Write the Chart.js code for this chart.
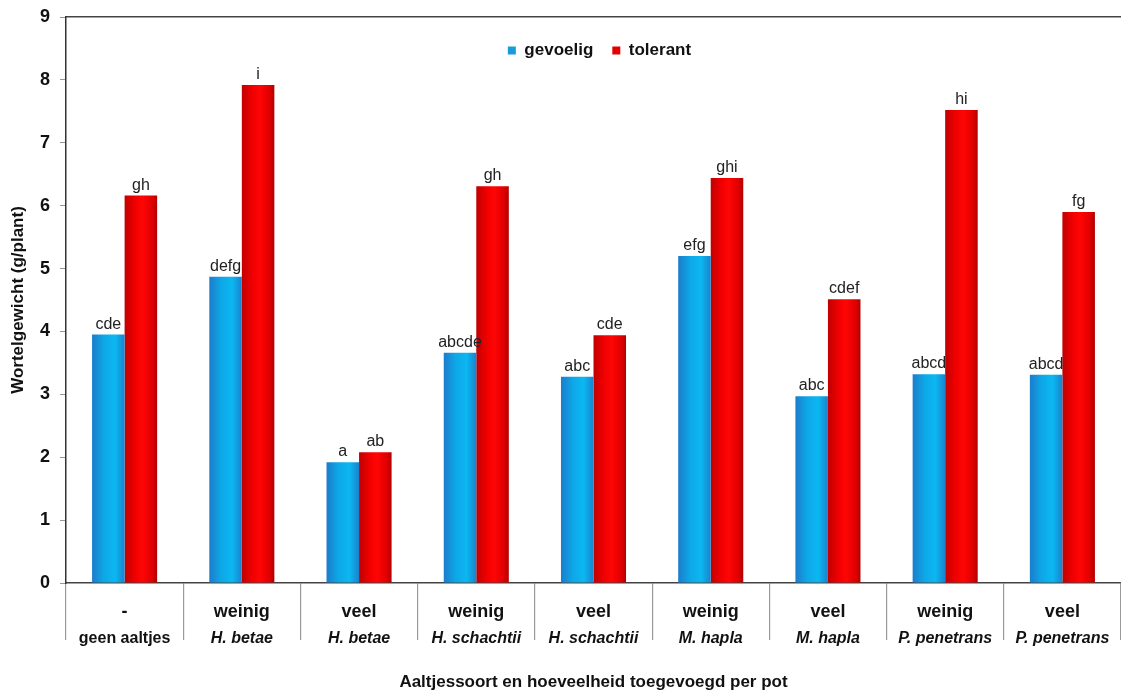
<!DOCTYPE html>
<html>
<head>
<meta charset="utf-8">
<script src="https://cdn.jsdelivr.net/npm/chart.js@4.4.0/dist/chart.umd.min.js"></script>
<style>
html,body{margin:0;padding:0;background:#fff;overflow:hidden}
#wrap{width:1121px;height:693px;position:relative}
</style>
</head>
<body>
<div id="wrap"><canvas id="c"></canvas></div>
<script>
// ---- data ----
const groupAmounts = ['-', 'weinig', 'veel', 'weinig', 'veel', 'weinig', 'veel', 'weinig', 'veel'];
const groupSpecies = ['geen aaltjes', 'H. betae', 'H. betae', 'H. schachtii', 'H. schachtii', 'M. hapla', 'M. hapla', 'P. penetrans', 'P. penetrans'];
const gevoelig = [3.95, 4.87, 1.92, 3.66, 3.28, 5.20, 2.97, 3.32, 3.31];
const tolerant = [6.16, 7.92, 2.08, 6.31, 3.94, 6.44, 4.51, 7.52, 5.90];
const gevoeligLetters = ['cde', 'defg', 'a', 'abcde', 'abc', 'efg', 'abc', 'abcd', 'abcd'];
const tolerantLetters = ['gh', 'i', 'ab', 'gh', 'cde', 'ghi', 'cdef', 'hi', 'fg'];
const yMin = 0, yMax = 9, yStep = 1;

const FONT = '"Liberation Sans", Arial, Helvetica, sans-serif';
Chart.defaults.font.family = FONT;
Chart.defaults.color = '#111';

const CAT_PCT = 0.555, BAR_PCT = 1.0;
const blueStops = [[0, '#1c7ccb'], [0.35, '#0ea6e6'], [0.7, '#0bb8f1'], [1, '#1983cf']];
const redStops = [[0, '#c00000'], [0.3, '#ee0000'], [0.55, '#ff0505'], [0.85, '#e00000'], [1, '#b00000']];

function makeGrad(stops, fallback) {
  return function (c) {
    const chart = c.chart;
    const xs = chart.scales && chart.scales.x;
    if (c.type !== 'data' || !xs || !chart.chartArea || !xs.width) return fallback;
    const center = xs.getPixelForValue(c.dataIndex);
    const catW = xs.width / xs.getLabels().length;
    const w = catW * CAT_PCT * BAR_PCT / 2;
    const x0 = c.datasetIndex === 0 ? center - w : center;
    const g = chart.ctx.createLinearGradient(x0, 0, x0 + w, 0);
    stops.forEach(s => g.addColorStop(s[0], s[1]));
    return g;
  };
}

const letterPlugin = {
  id: 'letters',
  afterDatasetsDraw(chart) {
    const ctx = chart.ctx;
    ctx.save();
    ctx.font = '16px ' + FONT;
    ctx.fillStyle = '#222';
    ctx.textAlign = 'center';
    ctx.textBaseline = 'alphabetic';
    [gevoeligLetters, tolerantLetters].forEach((letters, di) => {
      chart.getDatasetMeta(di).data.forEach((el, i) => {
        ctx.fillText(letters[i], el.x, el.y - 6);
      });
    });
    ctx.restore();
  }
};

// legend takes no layout space; it is moved inside the plot area after layout
function patchLegend(chart) {
  const lg = chart.legend;
  if (!lg || lg._patched) return;
  const fit = lg.fit;
  lg.fit = function () { fit.call(this); this._realHeight = this.height; this.height = 0; };
  lg._patched = true;
}
const legendInside = {
  id: 'legendInside',
  afterInit(chart) { patchLegend(chart); },
  beforeLayout(chart) { patchLegend(chart); },
  afterLayout(chart) {
    const lg = chart.legend;
    if (!lg) return;
    const h = lg._realHeight || 60;
    lg.left += 6; lg.right += 6;
    lg.top = chart.chartArea.top + 6;
    lg.height = h;
    lg.bottom = lg.top + h;
  }
};

new Chart(document.getElementById('c'), {
  type: 'bar',
  data: {
    labels: groupAmounts,
    datasets: [
      { label: 'gevoelig', data: gevoelig, legendColor: '#1a9ad9',
        backgroundColor: makeGrad(blueStops, '#1a9ad9'), borderWidth: 0,
        categoryPercentage: CAT_PCT, barPercentage: BAR_PCT },
      { label: 'tolerant', data: tolerant, legendColor: '#e00000',
        backgroundColor: makeGrad(redStops, '#e00000'), borderWidth: 0,
        categoryPercentage: CAT_PCT, barPercentage: BAR_PCT }
    ]
  },
  options: {
    responsive: true,
    maintainAspectRatio: false,
    animation: false,
    devicePixelRatio: 1,
    layout: { padding: { top: 17, left: 0, right: 0, bottom: 0 } },
    plugins: {
      tooltip: { enabled: false },
      legend: {
        position: 'top',
        fullSize: false,
        align: 'center',
        labels: {
          boxWidth: 8, boxHeight: 8, padding: 19,
          color: '#111',
          font: { size: 17, weight: 'bold' },
          generateLabels(chart) {
            return chart.data.datasets.map((ds, i) => ({
              text: ds.label, fillStyle: ds.legendColor, strokeStyle: ds.legendColor,
              lineWidth: 0, hidden: !chart.isDatasetVisible(i), datasetIndex: i, fontColor: '#111'
            }));
          }
        }
      }
    },
    scales: {
      x: {
        type: 'category', position: 'bottom', weight: 0,
        grid: { offset: true, drawOnChartArea: false, drawTicks: true, tickLength: 57, color: '#9a9a9a', lineWidth: 1.2 },
        border: { display: true, color: '#444', width: 1.5 },
        ticks: { padding: -39, color: '#111', autoSkip: false, maxRotation: 0, font: { size: 18, weight: 'bold' } },
        afterFit(s) { s.height = 39; }
      },
      x2: {
        type: 'category', labels: groupSpecies, position: 'bottom', weight: 1,
        grid: { display: false, drawTicks: false },
        border: { display: false },
        ticks: { padding: 7, color: '#111', autoSkip: false, maxRotation: 0,
          font: c => ({ size: 16, weight: 'bold', style: c.index === 0 ? 'normal' : 'italic' }) },
        title: { display: true, text: 'Aaltjessoort en hoeveelheid toegevoegd per pot', color: '#111',
          font: { size: 17, weight: 'bold' }, padding: { top: 0, bottom: 0 } },
        afterFit(s) { s.height = 71; }
      },
      xt: {
        type: 'category', labels: groupAmounts, position: 'top',
        ticks: { display: false },
        grid: { display: false, drawTicks: false },
        border: { display: true, color: '#444', width: 1.5 },
        afterFit(s) { s.height = 0; }
      },
      y: {
        min: yMin, max: yMax,
        ticks: { stepSize: yStep, padding: 10, color: '#111', font: { size: 18, weight: 'bold' } },
        grid: { drawOnChartArea: false, tickLength: 6, color: '#999' },
        border: { color: '#333', width: 1.5 },
        title: { display: true, text: 'Wortelgewicht (g/plant)', color: '#111',
          font: { size: 17, weight: 'bold' }, padding: { top: 8, bottom: 0 } },
        afterFit(s) { s.width = 66; s.paddingTop = 0; s.paddingBottom = 0; }
      }
    }
  },
  plugins: [letterPlugin, legendInside]
});
</script>
</body>
</html>
